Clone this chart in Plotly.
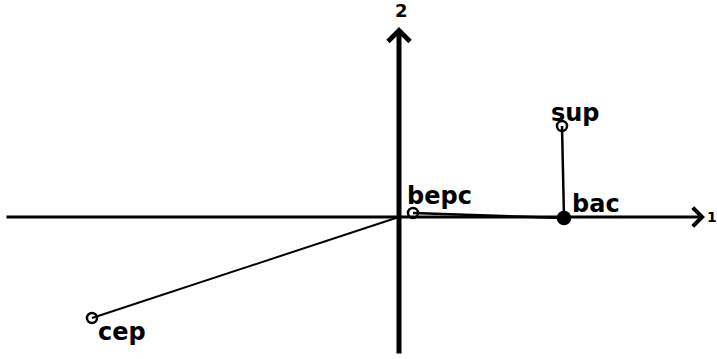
import plotly.graph_objects as go

# modalites et coordonnees sur les axes factoriels 1 et 2
labels = ["bepc", "bac", "sup", "cep"]
axe1 = [0.14, 1.65, 1.63, -3.07]
axe2 = [0.04, -0.01, 0.91, -1.01]
symbols = ["circle-open", "circle", "circle-open", "circle-open"]
# segments reliant les modalites (index, -1 = origine)
segments = [(-1, 3), (0, 1), (1, 2)]
axis_names = ["1", "2"]

def pt(i):
    if i < 0:
        return 0.0, 0.0
    return axe1[i], axe2[i]

fig = go.Figure()

for a, b in segments:
    xa, ya = pt(a)
    xb, yb = pt(b)
    fig.add_trace(go.Scatter(x=[xa, xb], y=[ya, yb], mode="lines",
                             line=dict(color="black", width=2.5 if a >= 0 else 2),
                             hoverinfo="skip"))

fig.add_trace(go.Scatter(
    x=axe1, y=axe2, mode="markers",
    marker=dict(symbol=symbols, size=[10, 12, 10, 10], color="black", opacity=1,
                line=dict(color="black", width=2.5)),
    text=labels, hoverinfo="text"))

# axes avec fleches
fig.add_annotation(x=3.06, y=0, ax=-3.94, ay=0, xref="x", yref="y", axref="x", ayref="y",
                   text="", showarrow=True, arrowhead=4, arrowsize=1.2, arrowwidth=3,
                   arrowcolor="black")
fig.add_annotation(x=0, y=1.90, ax=0, ay=-1.38, xref="x", yref="y", axref="x", ayref="y",
                   text="", showarrow=True, arrowhead=4, arrowsize=0.85, arrowwidth=5,
                   arrowcolor="black")
fig.add_annotation(x=3.06, y=0, xref="x", yref="y", text=axis_names[0], showarrow=False,
                   xanchor="left", yanchor="middle",
                   font=dict(family="DejaVu Sans", size=14, color="black", weight="bold"))
fig.add_annotation(x=0.02, y=2.07, xref="x", yref="y", text=axis_names[1], showarrow=False,
                   xanchor="center", yanchor="middle",
                   font=dict(family="DejaVu Sans", size=18, color="black", weight="bold"))

shifts = [(-8, 17), (6, 14), (-13, 13), (4, -14)]
for lab, x, y, (dx, dy) in zip(labels, axe1, axe2, shifts):
    fig.add_annotation(x=x, y=y, text=lab, showarrow=False, xanchor="left", yanchor="middle",
                       xshift=dx, yshift=dy,
                       font=dict(family="DejaVu Sans", size=24, color="black", weight="bold"))

fig.update_xaxes(range=[-3.99, 3.18], visible=False)
fig.update_yaxes(range=[-1.42, 2.17], visible=False)
fig.update_layout(width=717, height=359, margin=dict(l=0, r=0, t=0, b=0),
                  plot_bgcolor="white", paper_bgcolor="white", showlegend=False)

fig.write_html("out.html", config={"displayModeBar": False},
               post_script="document.body.style.margin='0';")
